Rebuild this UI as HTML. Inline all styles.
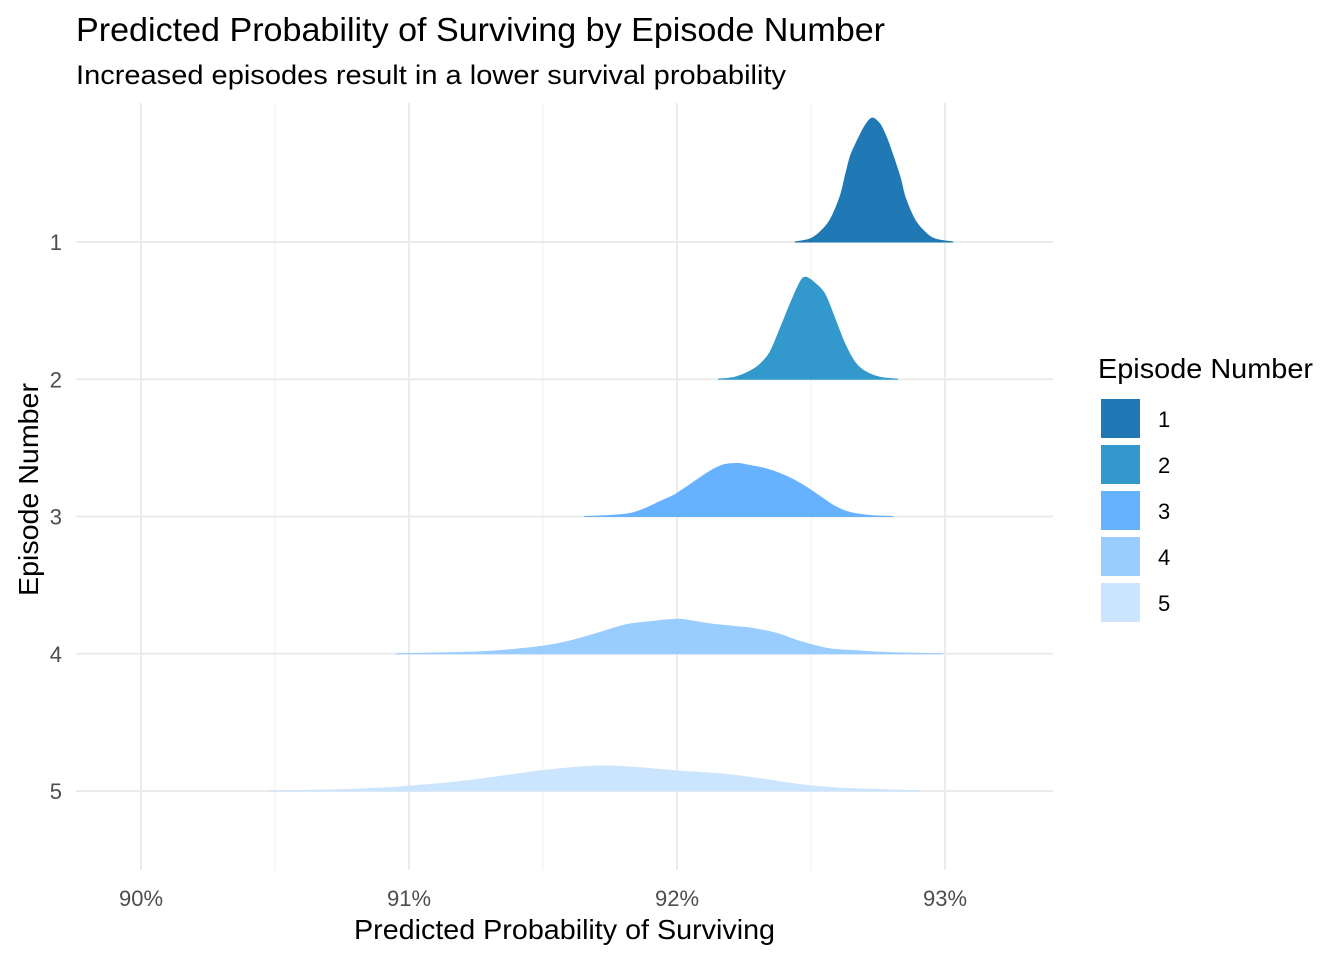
<!DOCTYPE html>
<html><head><meta charset="utf-8"><style>
body{margin:0;background:#fff;}
svg text{font-family:"Liberation Sans",Arial,sans-serif;}
</style></head><body>
<svg id="chart" width="1344" height="960" xmlns="http://www.w3.org/2000/svg">
<rect width="1344" height="960" fill="#fff"/>
<text x="76" y="41" font-size="33" fill="#000" textLength="809" lengthAdjust="spacingAndGlyphs">Predicted Probability of Surviving by Episode Number</text>
<text x="76" y="84" font-size="27" fill="#000" textLength="710" lengthAdjust="spacingAndGlyphs">Increased episodes result in a lower survival probability</text>
<g id="grid"></g>
<g id="ridges"></g>
<g id="axes"></g>
<text x="354" y="939" font-size="28" fill="#000" textLength="421" lengthAdjust="spacingAndGlyphs">Predicted Probability of Surviving</text>
<text transform="translate(38,596) rotate(-90)" font-size="28" fill="#000" textLength="213" lengthAdjust="spacingAndGlyphs">Episode Number</text>
<g id="legend">
<text x="1098" y="378" font-size="28" fill="#000" textLength="215" lengthAdjust="spacingAndGlyphs">Episode Number</text>
</g>
</svg>
<script>
const categories = ["1","2","3","4","5"];
const colors = ["#2079B4","#3399CC","#66B2FF","#99CCFF","#CCE5FF"];
const xTicks = [90,91,92,93];
const xTickLabels = ["90%","91%","92%","93%"];
const s1x = [92.440,92.496,92.534,92.571,92.608,92.627,92.646,92.665,92.683,92.701,92.728,92.757,92.776,92.795,92.832,92.851,92.888,92.925,92.963,93.030];
const s1y = [0,3,10,22,45,65,85,97,107,116,124,118,108,95,65,45,22,10,3,0];
const s2x = [92.153,92.216,92.272,92.310,92.347,92.384,92.422,92.459,92.481,92.515,92.552,92.590,92.627,92.664,92.701,92.757,92.825];
const s2y = [0,2,8,15,27,50,75,97,102,96,85,60,35,17,8,2,0];
const s3x = [91.653,91.750,91.825,91.881,91.937,91.993,92.049,92.104,92.142,92.179,92.228,92.272,92.328,92.384,92.440,92.496,92.534,92.590,92.646,92.720,92.806];
const s3y = [0,1,3,8,15,22,32,42,48,52,53,51,48,43,36,27,20,10,4,1,0];
const s4x = [90.951,91.194,91.347,91.504,91.604,91.709,91.810,91.896,92.000,92.052,92.119,92.224,92.291,92.377,92.463,92.567,92.668,92.806,92.993];
const s4y = [0,1.3,3.3,7.7,13,21,29,32,34.5,33,30,27,25,20,12,5,3,1,0];
const s5x = [90.474,90.750,90.922,91.007,91.179,91.351,91.485,91.642,91.743,91.862,92.000,92.119,92.205,92.325,92.463,92.601,92.772,92.907];
const s5y = [0,1.3,3.3,5,9,15,20,24,25,23.3,20,18,16,11.7,6.3,3,1.3,0];
const seriesX = [s1x,s2x,s3x,s4x,s5x];
const seriesY = [s1y,s2y,s3y,s4y,s5y];

const NS="http://www.w3.org/2000/svg";
const xScale = v => 141 + (v-90)*268;
const rowY = i => 242 + i*137.25;
const hScale = h => h;
function mk(tag, attrs, parent){const e=document.createElementNS(NS,tag);for(const k in attrs)e.setAttribute(k,attrs[k]);parent.appendChild(e);return e;}
const grid=document.getElementById('grid'), ridges=document.getElementById('ridges'), axes=document.getElementById('axes'), legend=document.getElementById('legend');
for(let i=0;i<xTicks.length-1;i++){
  const gx=xScale((xTicks[i]+xTicks[i+1])/2);
  const l=mk('line',{x1:gx,x2:gx,y1:103,y2:870,stroke:'#f2f2f2','stroke-width':1.2},grid);
  
  
}
xTicks.forEach((t,i)=>{
  const gx=xScale(t);
  const l=mk('line',{x1:gx,x2:gx,y1:103,y2:870,stroke:'#ebebeb','stroke-width':2},grid);
  
  
  const tx=mk('text',{x:gx,y:906,'font-size':22,'text-anchor':'middle',fill:'#4d4d4d'},axes);
  tx.textContent=xTickLabels[i];
  
  
});
categories.forEach((c,i)=>{
  const y=rowY(i);
  const l=mk('line',{x1:76,x2:1053,y1:y,y2:y,stroke:'#ebebeb','stroke-width':2},grid);
  
  
  const tx=mk('text',{x:62,y:y+8,'font-size':22,'text-anchor':'end',fill:'#4d4d4d'},axes);
  tx.textContent=c;
  
  
});
function smoothPath(pts){
  let d=`M${pts[0][0]},${pts[0][1]}`;
  for(let i=0;i<pts.length-1;i++){
    const p0=pts[Math.max(0,i-1)],p1=pts[i],p2=pts[i+1],p3=pts[Math.min(pts.length-1,i+2)];
    const c1x=p1[0]+(p2[0]-p0[0])/6,c1y=p1[1]+(p2[1]-p0[1])/6;
    const c2x=p2[0]-(p3[0]-p1[0])/6,c2y=p2[1]-(p3[1]-p1[1])/6;
    d+=` C${c1x},${c1y} ${c2x},${c2y} ${p2[0]},${p2[1]}`;
  }
  return d;
}
categories.forEach((c,i)=>{
  const base=rowY(i);
  const pts=seriesX[i].map((x,j)=>[xScale(x),base-hScale(seriesY[i][j])]);
  const d=smoothPath(pts)+` L${pts[pts.length-1][0]},${base} L${pts[0][0]},${base} Z`;
  const p=mk('path',{d:d,fill:colors[i],stroke:colors[i],'stroke-width':1},ridges);
  
  
  const r=mk('rect',{x:1101,y:399+i*46,width:39,height:39,fill:colors[i]},legend);
  
  
  const t=mk('text',{x:1158,y:427+i*46,'font-size':22,fill:'#000'},legend);
  t.textContent=c;
  
  
});
</script>
</body></html>
